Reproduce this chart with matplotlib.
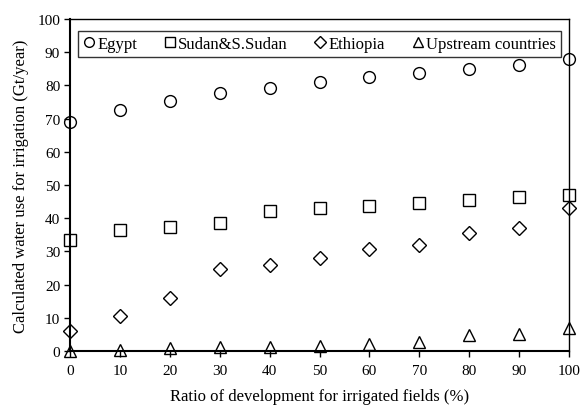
import matplotlib
matplotlib.use("Agg")
import matplotlib.pyplot as plt

plt.rcParams['font.family'] = ['Liberation Serif', 'DejaVu Serif']

ratio = [0, 10, 20, 30, 40, 50, 60, 70, 80, 90, 100]
egypt = [68.9, 72.7, 75.3, 77.7, 79.2, 81.0, 82.5, 83.7, 85.0, 86.0, 88.0]
sudan = [33.4, 36.3, 37.4, 38.5, 42.1, 43.2, 43.7, 44.7, 45.6, 46.5, 47.1]
ethiopia = [6.1, 10.4, 16.1, 24.6, 26.0, 27.9, 30.6, 31.9, 35.4, 36.9, 43.0]
upstream = [0.0, 0.4, 0.8, 1.1, 1.3, 1.6, 2.1, 2.8, 4.8, 5.2, 6.8]

series = [
    ("Egypt", egypt, 'o'),
    ("Sudan&S.Sudan", sudan, 's'),
    ("Ethiopia", ethiopia, 'D'),
    ("Upstream countries", upstream, '^'),
]
sizes = {'o': 8.5, 's': 8.5, 'D': 7.5, '^': 8.5}
legend_sizes = {'o': 7, 's': 7, 'D': 6, '^': 7}

fig = plt.figure(figsize=(5.88, 4.06), dpi=100)
ax = fig.add_axes([0.119, 0.133, 0.849, 0.818])

for name, vals, m in series:
    ax.plot(ratio, vals, linestyle='none', marker=m, markersize=sizes[m],
            markerfacecolor='none', markeredgecolor='black', markeredgewidth=1.0,
            label=name, clip_on=False, zorder=3)

ax.set_xlim(0, 100)
ax.set_ylim(0, 100)
ax.set_xticks(range(0, 101, 10))
ax.set_yticks(range(0, 101, 10))
ax.tick_params(axis='x', direction='out', length=4, width=1, pad=5, labelsize=11)
ax.tick_params(axis='y', direction='out', length=4, width=1, labelsize=11, pad=3)
for s in ax.spines.values():
    s.set_linewidth(1.0)
ax.spines['left'].set_linewidth(1.5)
ax.spines['bottom'].set_linewidth(1.5)

ax.set_xlabel("Ratio of development for irrigated fields (%)", fontsize=12, labelpad=8)
ax.set_ylabel("Calculated water use for irrigation (Gt/year)", fontsize=12, labelpad=6)

leg = ax.legend(loc='upper center', ncol=4, fontsize=12, frameon=True, fancybox=False,
                edgecolor='black', handlelength=0.7, handletextpad=0.15, columnspacing=1.6,
                borderpad=0.3, bbox_to_anchor=(0.5, 0.99))
leg.get_frame().set_linewidth(1.0)
for h, (_, _, m) in zip(leg.legend_handles, series):
    h.set_markersize(legend_sizes[m])

fig.savefig("out.png", dpi=100)
